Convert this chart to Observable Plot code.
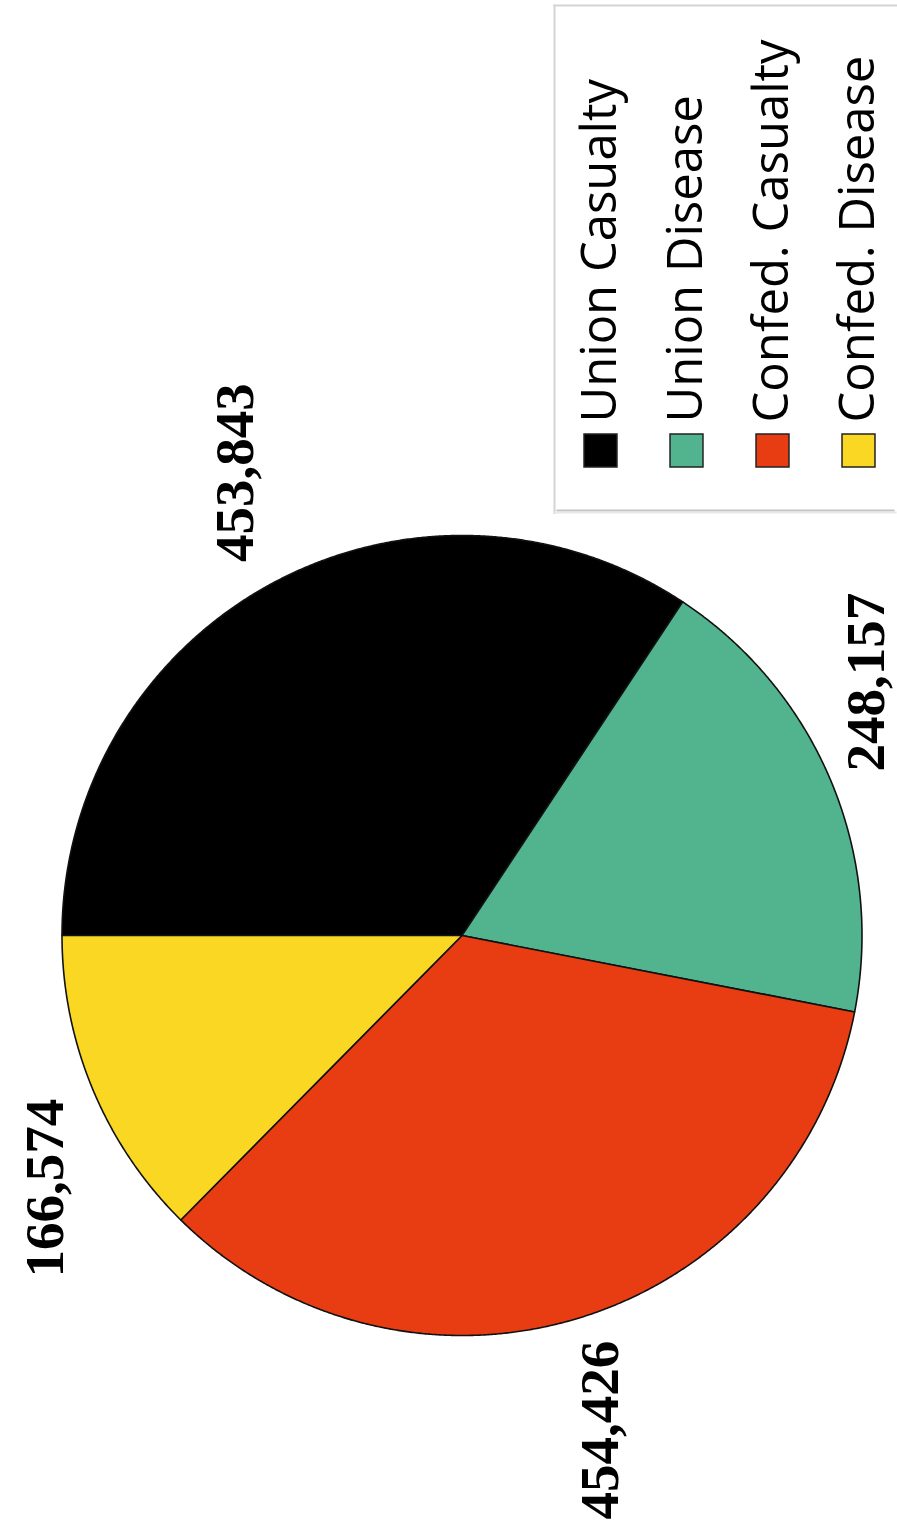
<!DOCTYPE html>
<html><head><meta charset="utf-8">
<script src="https://cdn.jsdelivr.net/npm/d3@7"></script>
<script src="https://cdn.jsdelivr.net/npm/@observablehq/plot@0.6"></script>
<style>
html,body{margin:0;padding:0;background:#fff;overflow:hidden;}
#wrap{position:relative;width:897px;height:1533px;}
#legend{position:absolute;left:553px;top:4px;}
</style></head><body><div id="wrap"><div id="chart"></div><div id="legend"></div></div>
<script>
const categories = ["Union Casualty", "Union Disease", "Confed. Casualty", "Confed. Disease"];
const values = [453843, 248157, 454426, 166574];
const labels = ["453,843", "248,157", "454,426", "166,574"];
const colors = ["#000000", "#52b48e", "#e83d12", "#fad723"];

const data = categories.map((c, i) => ({category: c, value: values[i], label: labels[i]}));
// chart is shown turned a quarter turn counter-clockwise: first slice starts at 9 o'clock
const arcs = d3.pie().sort(null).value(d => d.value).startAngle(-Math.PI / 2).endAngle(1.5 * Math.PI)(data);

const slicePts = arcs.flatMap(a => {
  const n = Math.max(2, Math.ceil((a.endAngle - a.startAngle) / (Math.PI / 720)));
  const pts = [{category: a.data.category, x: 0, y: 0}];
  for (let k = 0; k <= n; k++) {
    const t = a.startAngle + (a.endAngle - a.startAngle) * k / n;
    pts.push({category: a.data.category, x: Math.sin(t), y: -Math.cos(t)});
  }
  pts.push({category: a.data.category, x: 0, y: 0});
  return pts;
});

const R = 1.06;
const labelData = arcs.map(a => {
  const mid = (a.startAngle + a.endAngle) / 2;
  const alpha = mid + Math.PI / 2; // angle in the unrotated chart
  const ox = R * Math.sin(alpha), oy = -R * Math.cos(alpha);
  return {label: a.data.label, x: oy, y: -ox,
    textAnchor: Math.sin(alpha) > 0 ? "start" : "end",
    lineAnchor: Math.cos(alpha) > 0 ? "bottom" : "top"};
});
const combos = d3.groups(labelData, d => d.textAnchor + "|" + d.lineAnchor);
const labelMarks = combos.map(([k, arr]) => Plot.text(arr, {
  x: "x", y: "y", text: "label", rotate: -90, dx: -8,
  textAnchor: arr[0].textAnchor, lineAnchor: arr[0].lineAnchor,
  fontSize: 55, fontWeight: "bold", fontFamily: "Liberation Serif", fill: "#000"
}));

const chart = Plot.plot({
  width: 897, height: 1533, margin: 0,
  x: {domain: [-1, 1], range: [61.5, 861.5], axis: null},
  y: {domain: [-1, 1], range: [535, 1335], axis: null},
  color: {domain: categories, range: colors},
  marks: [
    Plot.line(slicePts, {x: "x", y: "y", z: "category", fill: "category", stroke: "#111", strokeWidth: 1.6, strokeLinejoin: "round"}),
    ...labelMarks
  ]
});
document.getElementById("chart").append(chart);

const legend = Plot.plot({
  width: 344, height: 510, margin: 0,
  x: {type: "point", domain: categories, range: [47, 305], padding: 0, axis: null},
  color: {domain: categories, range: colors},
  marks: [
    Plot.frame({anchor: "top", stroke: "#d4d4d4", strokeWidth: 2, inset: 1}),
    Plot.frame({anchor: "left", stroke: "#d4d4d4", strokeWidth: 2, inset: 1}),
    Plot.frame({anchor: "bottom", stroke: "#c4c4c4", strokeWidth: 2, inset: 4}),
    Plot.frame({anchor: "bottom", stroke: "#e8e8e8", strokeWidth: 2, inset: 2}),
    Plot.dot(categories, {x: d => d, fill: d => d, symbol: "square", r: 18.6, stroke: "#222", strokeWidth: 1.5, frameAnchor: "bottom", dy: -64}),
    Plot.text(categories, {x: d => d, text: d => d, rotate: -90, textAnchor: "start", lineAnchor: "middle", frameAnchor: "bottom", dy: -92, fontSize: 49, fontFamily: "Open Sans", fill: "#000"})
  ]
});
document.getElementById("legend").append(legend);
</script></body></html>
